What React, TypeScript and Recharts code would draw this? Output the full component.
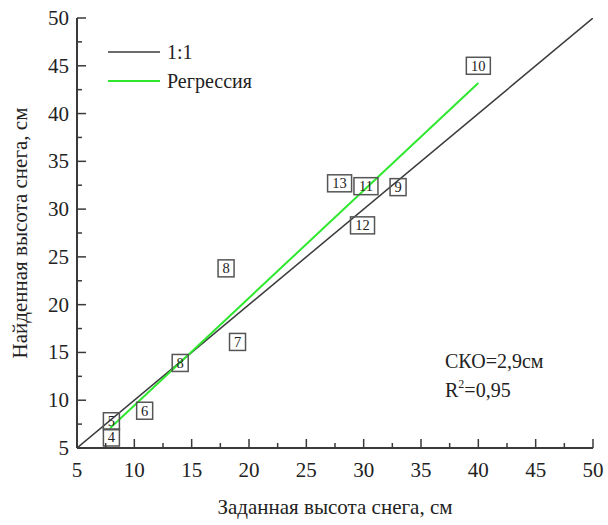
import React from 'react';
import { ComposedChart, XAxis, YAxis, Scatter, Line } from 'recharts';

// Data
const pointLabels = ['4', '5', '6', '8', '7', '8', '12', '13', '11', '9', '10'];
const pointX = [8.0, 8.0, 10.9, 14.0, 19.0, 18.0, 29.9, 27.9, 30.2, 33.0, 40.0];
const pointY = [6.1, 7.8, 8.9, 13.9, 16.1, 23.8, 28.3, 32.7, 32.4, 32.3, 45.0];

const oneToOneX = [5, 50];
const oneToOneY = [5, 50];

const regressionX = [7.9, 40.0];
const regressionY = [7.1, 43.2];

const axisTicks = [5, 7.5, 10, 12.5, 15, 17.5, 20, 22.5, 25, 27.5, 30, 32.5, 35, 37.5, 40, 42.5, 45, 47.5, 50];
const axisDomain = [5, 50];

const seriesNames = ['1:1', 'Регрессия'];
const xTitle = 'Заданная высота снега, см';
const yTitle = 'Найденная высота снега, см';
const rmseText = 'СКО=2,9см';
const r2Value = '0,95';

const points = pointX.map((x, i) => ({ x, y: pointY[i], label: pointLabels[i] }));
const oneToOne = oneToOneX.map((x, i) => ({ x, y: oneToOneY[i] }));
const regression = regressionX.map((x, i) => ({ x, y: regressionY[i] }));

const FONT = '"Liberation Serif", "DejaVu Serif", serif';
const TEXT = '#222';
const AXIS = '#3a3a3a';
const GREEN = '#2ee82e';

const txt = (size: number) => ({ fontFamily: FONT, fontSize: size, fill: TEXT });

const XTick = (props: any) => {
  const { x, y, payload } = props;
  const v = payload.value;
  const major = v % 5 === 0;
  return (
    <g>
      <line x1={x} y1={y} x2={x} y2={y - (major ? 9 : 5)} stroke={AXIS} strokeWidth={1.5} />
      {major && (
        <text x={x} y={y + 29} textAnchor="middle" style={txt(21)}>
          {v}
        </text>
      )}
    </g>
  );
};

const YTick = (props: any) => {
  const { x, y, payload } = props;
  const v = payload.value;
  const major = v % 5 === 0;
  return (
    <g>
      <line x1={x} y1={y} x2={x + (major ? 9 : 5)} y2={y} stroke={AXIS} strokeWidth={1.5} />
      {major && (
        <text x={x - 8} y={y + 7} textAnchor="end" style={txt(21)}>
          {v}
        </text>
      )}
    </g>
  );
};

const BoxShape = (props: any) => {
  const { cx, cy, payload } = props;
  const w = payload.label.length > 1 ? 24 : 16;
  const h = 17;
  return (
    <g>
      <rect x={cx - w / 2} y={cy - h / 2} width={w} height={h} fill="none" stroke="#555" strokeWidth={1.5} />
      <text x={cx} y={cy + 5} textAnchor="middle" style={txt(14.5)}>
        {payload.label}
      </text>
    </g>
  );
};

const XTitle = (props: any) => {
  const vb = props.viewBox || {};
  return (
    <text x={vb.x + vb.width / 2} y={vb.y + 66} textAnchor="middle" style={txt(21)}>
      {xTitle}
    </text>
  );
};

const YTitle = (props: any) => {
  const vb = props.viewBox || {};
  const cx = 27;
  const cy = vb.y + vb.height / 2;
  return (
    <text x={cx} y={cy} transform={`rotate(-90 ${cx} ${cy})`} textAnchor="middle" style={txt(21)}>
      {yTitle}
    </text>
  );
};

export default function App() {
  return (
    <div style={{ position: 'absolute', left: 0, top: 0, width: 608, height: 525, background: '#fff' }}>
      <ComposedChart width={608} height={525} margin={{ top: 18, right: 15, left: 0, bottom: 0 }}>
        <XAxis
          type="number"
          dataKey="x"
          domain={axisDomain}
          ticks={axisTicks}
          interval={0}
          allowDataOverflow
          height={77}
          tickSize={0}
          tickMargin={0}
          tickLine={false}
          tick={<XTick />}
          axisLine={{ stroke: AXIS, strokeWidth: 2 }}
          label={<XTitle />}
        />
        <XAxis
          xAxisId="top"
          orientation="top"
          type="number"
          dataKey="x"
          domain={axisDomain}
          height={0}
          tick={false}
          tickLine={false}
          axisLine={{ stroke: AXIS, strokeWidth: 2 }}
        />
        <YAxis
          type="number"
          dataKey="y"
          domain={axisDomain}
          ticks={axisTicks}
          interval={0}
          allowDataOverflow
          width={77}
          tickSize={0}
          tickMargin={0}
          tickLine={false}
          tick={<YTick />}
          axisLine={{ stroke: AXIS, strokeWidth: 2 }}
          label={<YTitle />}
        />
        <YAxis
          yAxisId="right"
          orientation="right"
          type="number"
          domain={axisDomain}
          width={0}
          tick={false}
          tickLine={false}
          axisLine={{ stroke: AXIS, strokeWidth: 2 }}
        />
        <Scatter data={points} dataKey="y" shape={<BoxShape />} isAnimationActive={false} legendType="none" />
        <Line data={oneToOne} dataKey="y" stroke={AXIS} strokeWidth={1.5} dot={false} isAnimationActive={false} name={seriesNames[0]} />
        <Line data={regression} dataKey="y" stroke={GREEN} strokeWidth={2} dot={false} isAnimationActive={false} name={seriesNames[1]} />
      </ComposedChart>
      <svg width={608} height={525} style={{ position: 'absolute', left: 0, top: 0, pointerEvents: 'none' }}>
        <line x1={108} y1={52} x2={160} y2={52} stroke={AXIS} strokeWidth={1.5} />
        <text x={167} y={59} style={txt(20)}>{seriesNames[0]}</text>
        <line x1={108} y1={81} x2={160} y2={81} stroke={GREEN} strokeWidth={2} />
        <text x={167} y={88} style={txt(20)}>{seriesNames[1]}</text>
        <text x={445} y={368} style={txt(20)}>{rmseText}</text>
        <text x={445} y={397} style={txt(20)}>
          R<tspan dy={-9} style={{ fontSize: 12 }}>2</tspan><tspan dy={9}>={r2Value}</tspan>
        </text>
      </svg>
    </div>
  );
}
